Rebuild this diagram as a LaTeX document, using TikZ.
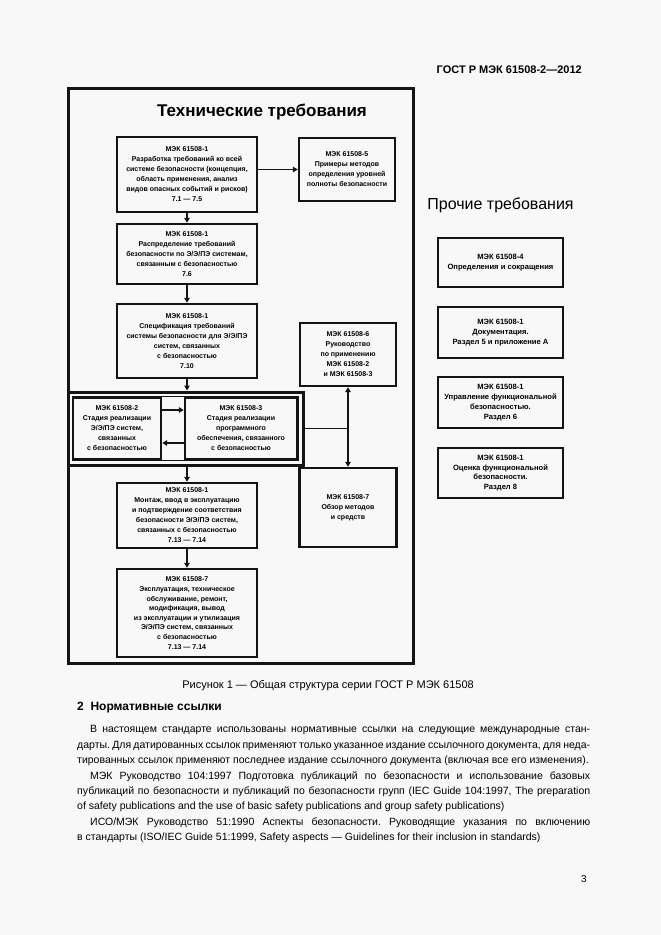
\documentclass[tikz,border=0pt]{standalone}
\usepackage{fontspec}
\setmainfont{Liberation Sans}
\usetikzlibrary{arrows.meta}
\definecolor{bgc}{RGB}{248,248,248}
\definecolor{ink}{RGB}{20,20,20}
\frenchspacing
\begin{document}
\begin{tikzpicture}[x=1pt,y=-1pt,
 box/.style={draw=ink, line width=2.4pt, fill=bgc, align=center, inner sep=0pt, font=\bfseries\fontsize{7}{10}\selectfont},
 rbox/.style={draw=ink, line width=2pt, fill=bgc, align=center, inner sep=0pt, minimum width=125pt, font=\bfseries\fontsize{7.6}{9.8}\selectfont},
 arr/.style={draw=ink, line width=1.8pt, -{Triangle[length=5pt,width=5.5pt]}},
 dbarr/.style={draw=ink, line width=1.8pt, {Triangle[length=5pt,width=5.5pt]}-{Triangle[length=5pt,width=5.5pt]}},
 link/.style={draw=ink, line width=1.8pt},
 body/.style={anchor=base west, inner sep=0pt, font=\fontsize{10.5}{12}\selectfont\frenchspacing},
]
\fill[bgc] (0,0) rectangle (661,935);
\path[use as bounding box] (0,0) rectangle (661,935);

% header
\node[anchor=base east, inner sep=0pt, font=\bfseries\fontsize{11}{12}\selectfont] (hdr) at (582,73) {ГОСТ Р МЭК 61508-2—2012};

% main frame
\draw[ink, line width=3pt] (68,88) rectangle (413,663);
\node[font=\bfseries\fontsize{17}{17}\selectfont] (title) at (262,112) {Технические требования};

% left column
\node[box, minimum width=140pt, minimum height=75pt] (b1) at (187,174.5)
 {МЭК 61508-1\\Разработка требований ко всей\\системе безопасности (концепция,\\область применения, анализ\\видов опасных событий и рисков)\\7.1 — 7.5};
\node[box, minimum width=96pt, minimum height=63pt] (b5) at (347,169.5)
 {МЭК 61508-5\\Примеры методов\\определения уровней\\полноты безопасности};
\node[box, minimum width=140pt, minimum height=60pt] (b2) at (187,254)
 {МЭК 61508-1\\Распределение требований\\безопасности по Э/Э/ПЭ системам,\\связанным с безопасностью\\7.6};
\node[box, minimum width=140pt, minimum height=74pt] (b3) at (187,341)
 {МЭК 61508-1\\Спецификация требований\\системы безопасности для Э/Э/ПЭ\\систем, связанных\\с безопасностью\\7.10};
\node[box, minimum width=96pt, minimum height=63pt] (b6) at (348,354.5)
 {МЭК 61508-6\\Руководство\\по применению\\МЭК 61508-2\\и МЭК 61508-3};

% double box
\node[draw=ink, line width=3pt, fill=bgc, minimum width=235pt, minimum height=73pt, inner sep=0pt] (dbl) at (185.5,428.5) {};
\node[draw=ink, line width=0.8pt, minimum width=226pt, minimum height=64pt, inner sep=0pt] (dblin) at (185.5,428.5) {};
\node[box, minimum width=88pt, minimum height=61pt] (dl) at (117,428.5)
 {МЭК 61508-2\\Стадия реализации\\Э/Э/ПЭ систем,\\связанных\\с безопасностью};
\node[box, minimum width=112pt, minimum height=61pt] (dr) at (241,428.5)
 {МЭК 61508-3\\Стадия реализации\\программного\\обеспечения, связанного\\с безопасностью};

\node[box, minimum width=97pt, minimum height=79pt] (b7) at (348,507.5)
 {МЭК 61508-7\\Обзор методов\\и средств};
\node[box, minimum width=140pt, minimum height=65pt] (b4) at (187,515.5)
 {МЭК 61508-1\\Монтаж, ввод в эксплуатацию\\и подтверждение соответствия\\безопасности Э/Э/ПЭ систем,\\связанных с безопасностью\\7.13 — 7.14};
\node[box, minimum width=140pt, minimum height=88pt, font=\bfseries\fontsize{7}{9.6}\selectfont] (b8) at (187,613)
 {МЭК 61508-7\\Эксплуатация, техническое\\обслуживание, ремонт,\\модификация, вывод\\из эксплуатации и утилизация\\Э/Э/ПЭ систем, связанных\\с безопасностью\\7.13 — 7.14};

% connectors
\draw[arr] (b1.south) -- (b2.north);
\draw[arr] (b2.south) -- (b3.north);
\draw[arr] (b3.south) -- (b3.south |- dbl.north);
\draw[arr] (b4.north |- dbl.south) -- (b4.north);
\draw[arr] (b4.south) -- (b8.north);
\draw[arr] (b1.east |- b5.west) -- (b5.west);
\draw[arr] ([yshift=18.5pt]dl.east) -- ([yshift=18.5pt]dr.west);
\draw[arr] ([yshift=-14.5pt]dr.west) -- ([yshift=-14.5pt]dl.east);
\draw[dbarr] (b6.south) -- (b7.north);
\draw[link] (dbl.east) -- (dbl.east -| b6.south);

% right column
\node[font=\fontsize{16}{16}\selectfont] (other) at (500.5,205) {Прочие требования};
\node[rbox, minimum height=49pt] (r1) at (500.5,262.5) {МЭК 61508-4\\Определения и сокращения};
\node[rbox, minimum height=51pt] (r2) at (500.5,332.5) {МЭК 61508-1\\Документация.\\Раздел 5 и приложение А};
\node[rbox, minimum height=51pt] (r3) at (500.5,402.5) {МЭК 61508-1\\Управление функциональной\\безопасностью.\\Раздел 6};
\node[rbox, minimum height=50pt] (r4) at (500.5,473) {МЭК 61508-1\\Оценка функциональной\\безопасности.\\Раздел 8};

% caption and text
\node[inner sep=0pt, font=\fontsize{11}{12}\selectfont] (cap) at (328,686) {Рисунок 1 — Общая структура серии ГОСТ Р МЭК 61508};
\node[anchor=base west, inner sep=0pt, font=\bfseries\fontsize{12}{14}\selectfont] (sec) at (77,710) {2\ \ Нормативные ссылки};
\node[body] (t1) at (90,732.5) {\makebox[500pt][s]{В настоящем стандарте использованы нормативные ссылки на следующие международные стан-}};
\node[body] (t2) at (77,748) {\makebox[513pt][s]{дарты. Для датированных ссылок применяют только указанное издание ссылочного документа, для неда-}};
\node[body] (t3) at (77,763.5) {тированных ссылок применяют последнее издание ссылочного документа (включая все его изменения).};
\node[body] (t4) at (90,779) {\makebox[500pt][s]{МЭК Руководство 104:1997 Подготовка публикаций по безопасности и использование базовых}};
\node[body] (t5) at (77,794.5) {\makebox[513pt][s]{публикаций по безопасности и публикаций по безопасности групп (IEC Guide 104:1997, The preparation}};
\node[body] (t6) at (77,809.5) {of safety publications and the use of basic safety publications and group safety publications)};
\node[body] (t7) at (90,825) {\makebox[500pt][s]{ИСО/МЭК Руководство 51:1990 Аспекты безопасности. Руководящие указания по включению}};
\node[body] (t8) at (77,840.5) {в стандарты (ISO/IEC Guide 51:1999, Safety aspects — Guidelines for their inclusion in standards)};
\node[anchor=base east, inner sep=0pt, font=\fontsize{10}{12}\selectfont] (pg) at (587,882) {3};
\end{tikzpicture}
\end{document}
